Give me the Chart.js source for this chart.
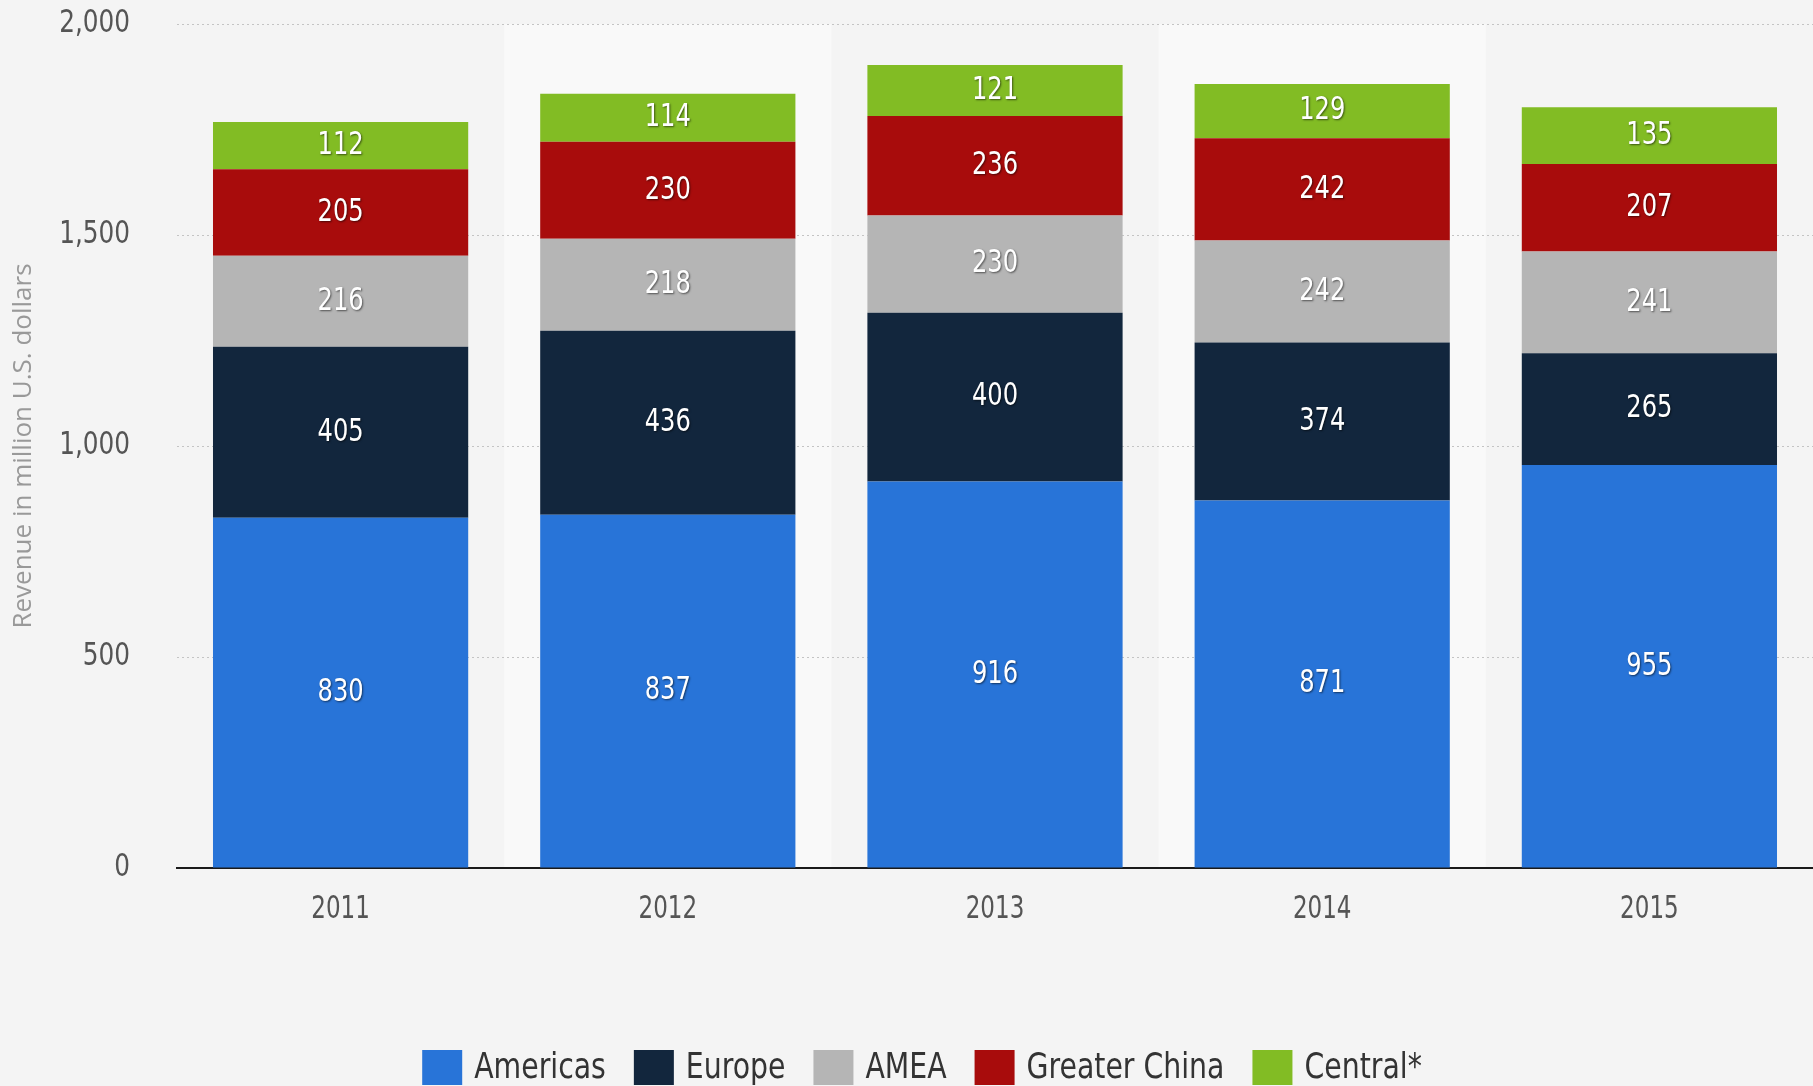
<!DOCTYPE html>
<html>
<head>
<meta charset="utf-8">
<script src="https://cdn.jsdelivr.net/npm/chart.js@4"></script>
<style>
  html, body { margin: 0; padding: 0; background: #f4f4f4; }
  canvas { display: block; }
</style>
</head>
<body>
<canvas id="myChart" width="1813" height="1086"></canvas>
<script>
var years = ['2011', '2012', '2013', '2014', '2015'];
var americas = [830, 837, 916, 871, 955];
var europe = [405, 436, 400, 374, 265];
var amea = [216, 218, 230, 242, 241];
var greaterChina = [205, 230, 236, 242, 207];
var central = [112, 114, 121, 129, 135];
var yTicks = [0, 500, 1000, 1500, 2000];

var narrow = "'DejaVu Sans Condensed', 'DejaVu Sans', sans-serif";

// text a bit squeezed sideways, like the original
function squeezed(c, text, x, y, align, sx) {
  c.save();
  c.translate(x, y);
  c.scale(sx, 1);
  c.textAlign = align;
  c.fillText(text, 0, 0);
  c.restore();
}

// light bands behind every other column
var bandPlugin = {
  id: 'bands',
  beforeDraw: function (chart) {
    var c = chart.ctx, area = chart.chartArea, x = chart.scales.x;
    var w = (area.right - area.left) / years.length;
    c.save();
    c.fillStyle = '#f9f9f9';
    for (var i = 1; i < years.length; i += 2) {
      c.fillRect(x.getPixelForValue(i) - w / 2, area.top, w, area.bottom - area.top);
    }
    c.restore();
  }
};

// segment values, tick labels and legend
var textPlugin = {
  id: 'texts',
  afterDraw: function (chart) {
    var c = chart.ctx, area = chart.chartArea;
    c.save();
    c.textBaseline = 'middle';

    // values in the segments
    c.font = '32px ' + narrow;
    c.fillStyle = '#ffffff';
    c.shadowColor = 'rgba(0,0,0,0.55)';
    c.shadowBlur = 2;
    c.shadowOffsetX = 1;
    c.shadowOffsetY = 1;
    chart.data.datasets.forEach(function (ds, di) {
      chart.getDatasetMeta(di).data.forEach(function (bar, i) {
        squeezed(c, String(ds.data[i]), bar.x, (bar.y + bar.base) / 2, 'center', 0.84);
      });
    });
    c.shadowColor = 'rgba(0,0,0,0)';

    // axis labels
    c.font = '32px ' + narrow;
    c.fillStyle = '#555555';
    yTicks.forEach(function (v) {
      squeezed(c, v.toLocaleString('en-US'), area.left - 47, chart.scales.y.getPixelForValue(v), 'right', 0.86);
    });
    years.forEach(function (yr, i) {
      squeezed(c, yr, chart.scales.x.getPixelForValue(i), area.bottom + 42, 'center', 0.8);
    });

    // legend
    var sx = 0.9, boxW = 40, boxH = 35, gap = 12, spacing = 28;
    c.font = '35px ' + narrow;
    var items = chart.data.datasets.map(function (ds) {
      return { text: ds.label, color: ds.backgroundColor, w: c.measureText(ds.label).width * sx };
    });
    var total = items.reduce(function (s, it) { return s + boxW + gap + it.w; }, 0) + spacing * (items.length - 1);
    var lx = 922 - total / 2, top = 1050;
    items.forEach(function (it) {
      c.fillStyle = it.color;
      c.fillRect(lx, top, boxW, boxH);
      c.fillStyle = '#333333';
      squeezed(c, it.text, lx + boxW + gap, top + boxH / 2 + 1, 'left', sx);
      lx += boxW + gap + it.w + spacing;
    });
    c.restore();
  }
};

var ctx = document.getElementById('myChart').getContext('2d');
var myChart = new Chart(ctx, {
  type: 'bar',
  data: {
    labels: years,
    datasets: [
      { label: 'Americas', data: americas, backgroundColor: '#2874d8' },
      { label: 'Europe', data: europe, backgroundColor: '#12263d' },
      { label: 'AMEA', data: amea, backgroundColor: '#b5b5b5' },
      { label: 'Greater China', data: greaterChina, backgroundColor: '#a80c0c' },
      { label: 'Central*', data: central, backgroundColor: '#82bc24' }
    ]
  },
  plugins: [bandPlugin, textPlugin],
  options: {
    responsive: false,
    animation: false,
    devicePixelRatio: 1,
    layout: { padding: { top: 24, right: -12, left: 0, bottom: 0 } },
    datasets: {
      bar: { categoryPercentage: 1, barPercentage: 0.78 }
    },
    plugins: {
      tooltip: { enabled: false },
      legend: { display: false }
    },
    scales: {
      x: {
        stacked: true,
        afterFit: function (s) { s.height = 218; },
        grid: { display: false, drawTicks: false },
        border: { display: true, color: '#1a1a1a', width: 2 },
        ticks: { display: false }
      },
      y: {
        stacked: true,
        min: 0,
        max: 2000,
        afterFit: function (s) { s.width = 177; },
        border: { display: false, dash: [2, 3] },
        grid: {
          drawTicks: false,
          color: function (c) { return c.tick && c.tick.value === 0 ? 'rgba(0,0,0,0)' : '#c4c4c4'; },
          lineWidth: 1
        },
        ticks: { display: false, stepSize: 500 },
        title: {
          display: true,
          text: 'Revenue in million U.S. dollars',
          color: '#999999',
          padding: { top: 8, bottom: 0 },
          font: { family: "'Open Sans', sans-serif", size: 26 }
        }
      }
    }
  }
});
</script>
</body>
</html>
